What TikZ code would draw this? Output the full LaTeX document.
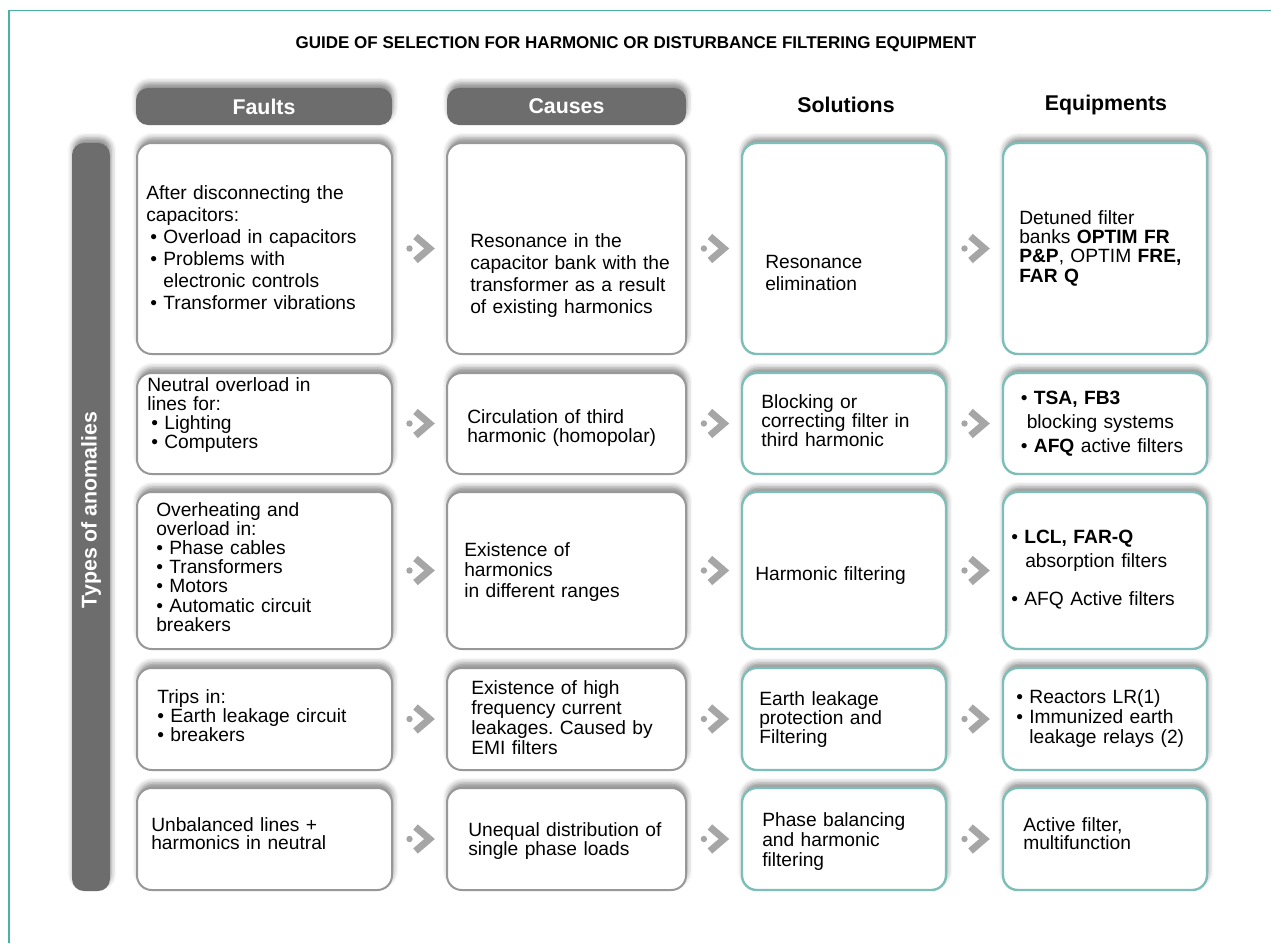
\documentclass[tikz,border=0pt]{standalone}
\usepackage{fontspec}
\setmainfont{Liberation Sans}
\usetikzlibrary{calc,shadows.blur}
\definecolor{frameteal}{RGB}{72,178,166}
\definecolor{boxgray}{RGB}{152,152,152}
\definecolor{boxteal}{RGB}{125,190,184}
\definecolor{pillgray}{RGB}{109,109,109}
\definecolor{chevgray}{RGB}{166,166,166}
\newcommand{\bul}{\textbullet\ }
\newcommand{\ind}{\phantom{\textbullet\ }}
% chevron between two neighbouring cells
\newcommand{\chev}[2]{%
  \coordinate (#1#2) at ($(#1.east)!0.5!(#2.west)$);
  \fill[chevgray] ($(#1#2)+(-10,0)$) circle (3.2);
  \draw[chevgray,line width=5.2pt,line join=miter]
     ($(#1#2)+(-4,-12)$) -- ($(#1#2)+(10,0)$) -- ($(#1#2)+(-4,12)$);
}
\frenchspacing

\begin{document}
\begin{tikzpicture}[x=0.75pt,y=-0.75pt,
  shade/.style={blur shadow={shadow xshift=0.8pt,shadow yshift=3.8pt,
     shadow blur radius=4pt,shadow opacity=45}},
  cell/.style={draw=boxgray,line width=1.5pt,fill=white,rounded corners=11pt,
     inner sep=0pt,shade},
  tcell/.style={cell,draw=boxteal,line width=1.8pt},
  pill/.style={fill=pillgray,rounded corners=9pt,inner sep=0pt,text=white,
     font=\fontsize{16}{18}\selectfont\bfseries,shade},
  hdr/.style={font=\fontsize{16}{18}\selectfont\bfseries},
  txt/.style={anchor=base west,inner sep=0pt,text width=300pt,align=left,
     font=\fontsize{14.4}{#1}\selectfont},
  colA/.style={minimum width=255*0.75pt},
  colB/.style={minimum width=239*0.75pt},
  colC/.style={minimum width=204*0.75pt},
  rowA/.style={minimum height=211*0.75pt},
  rowB/.style={minimum height=101*0.75pt},
  rowC/.style={minimum height=157*0.75pt},
  rowD/.style={minimum height=102*0.75pt},
  rowE/.style={minimum height=102*0.75pt}]
\useasboundingbox (0,0) rectangle (1271,943);
\draw[frameteal,line width=1pt] (9,943) -- (9,10.5) -- (1271,10.5);
\node[font=\fontsize{12.75}{15}\selectfont\bfseries] (title) at (636,44)
  {GUIDE OF SELECTION FOR HARMONIC OR DISTURBANCE FILTERING EQUIPMENT};

% ---------------- headers ----------------
\node[pill,minimum width=256*0.75pt,minimum height=37*0.75pt] (hfault) at (264,106.5) {Faults};
\node[pill,minimum width=239*0.75pt,minimum height=37*0.75pt] (hcause) at (566.5,106.5) {Causes};
\node[hdr] (hsol) at (846,105) {Solutions};
\node[hdr] (hequip) at (1106,105) {Equipments};

% side bar
\node[pill,minimum width=38*0.75pt,minimum height=748*0.75pt] (anom) at (91,517) {};
\node[hdr,text=white,rotate=90] (anomtxt) at (91,510) {Types of anomalies};

% ---------------- cells ----------------
\node[cell,colA,rowA] (f1) at (264.5,248.5) {};
\node[cell,colA,rowB] (f2) at (264.5,423.5) {};
\node[cell,colA,rowC] (f3) at (264.5,570.5) {};
\node[cell,colA,rowD] (f4) at (264.5,719) {};
\node[cell,colA,rowE] (f5) at (264.5,839) {};
\node[cell,colB,rowA] (c1) at (566.5,248.5) {};
\node[cell,colB,rowB] (c2) at (566.5,423.5) {};
\node[cell,colB,rowC] (c3) at (566.5,570.5) {};
\node[cell,colB,rowD] (c4) at (566.5,719) {};
\node[cell,colB,rowE] (c5) at (566.5,839) {};
\node[tcell,colC,rowA] (s1) at (844,248.5) {};
\node[tcell,colC,rowB] (s2) at (844,423.5) {};
\node[tcell,colC,rowC] (s3) at (844,570.5) {};
\node[tcell,colC,rowD] (s4) at (844,719) {};
\node[tcell,colC,rowE] (s5) at (844,839) {};
\node[tcell,colC,rowA] (e1) at (1105,248.5) {};
\node[tcell,colC,rowB] (e2) at (1105,423.5) {};
\node[tcell,colC,rowC] (e3) at (1105,570.5) {};
\node[tcell,colC,rowD] (e4) at (1105,719) {};
\node[tcell,colC,rowE] (e5) at (1105,839) {};

\foreach \r in {1,...,5}{
  \chev{f\r}{c\r}
  \chev{c\r}{s\r}
  \chev{s\r}{e\r}
}

% ---------------- texts: faults ----------------
\node[txt=16.5pt] (f1t) at (146,199) {After disconnecting the\\capacitors:\\
  \hspace*{3pt}\bul Overload in capacitors\\\hspace*{3pt}\bul Problems with\\
  \hspace*{3pt}\ind electronic controls\\\hspace*{3pt}\bul Transformer vibrations};
\node[txt=14.25pt] (f2t) at (147,391) {Neutral overload in\\lines for:\\
  \hspace*{3pt}\bul Lighting\\\hspace*{3pt}\bul Computers};
\node[txt=14.4pt] (f3t) at (156,516) {Overheating and\\overload in:\\\bul Phase cables\\
  \bul Transformers\\\bul Motors\\\bul Automatic circuit\\breakers};
\node[txt=14.6pt] (f4t) at (157,703) {Trips in:\\\bul Earth leakage circuit\\\bul breakers};
\node[txt=13.9pt] (f5t) at (151,831) {Unbalanced lines +\\harmonics in neutral};

% ---------------- texts: causes ----------------
\node[txt=16.5pt] (c1t) at (470,247) {Resonance in the\\capacitor bank with the\\
  transformer as a result\\of existing harmonics};
\node[txt=14.6pt] (c2t) at (467,423) {Circulation of third\\harmonic (homopolar)};
\node[txt=15.4pt] (c3t) at (464,556) {Existence of\\harmonics\\in different ranges};
\node[txt=15pt] (c4t) at (471,694) {Existence of high\\frequency current\\
  leakages. Caused by\\EMI filters};
\node[txt=14.25pt] (c5t) at (468,836) {Unequal distribution of\\single phase loads};

% ---------------- texts: solutions ----------------
\node[txt=16.5pt] (s1t) at (765,268) {Resonance\\elimination};
\node[txt=14.6pt] (s2t) at (761,408) {Blocking or\\correcting filter in\\third harmonic};
\node[txt=14.6pt] (s3t) at (755,580) {Harmonic filtering};
\node[txt=14.6pt] (s4t) at (759,705) {Earth leakage\\protection and\\Filtering};
\node[txt=15pt] (s5t) at (762,826) {Phase balancing\\and harmonic\\filtering};

% ---------------- texts: equipments ----------------
\node[txt=14.5pt] (e1t) at (1019,224) {Detuned filter\\banks \textbf{OPTIM FR}\\
  \textbf{P\&P}, OPTIM \textbf{FRE,}\\\textbf{FAR Q}};
\node[txt=18pt] (e2t) at (1020.5,404) {\bul\textbf{TSA, FB3}\\
  \hspace*{4.5pt}blocking systems\\\bul\textbf{AFQ} active filters};
\node[txt=18pt] (e3t) at (1011,543) {\bul\textbf{LCL, FAR-Q}\\
  \hspace*{10.5pt}absorption filters\\[10.5pt]\bul AFQ Active filters};
\node[txt=15pt] (e4t) at (1016,703) {\bul Reactors LR(1)\\\bul Immunized earth\\
  \ind leakage relays (2)};
\node[txt=13.9pt] (e5t) at (1023,831) {Active filter,\\multifunction};
\end{tikzpicture}
\end{document}
